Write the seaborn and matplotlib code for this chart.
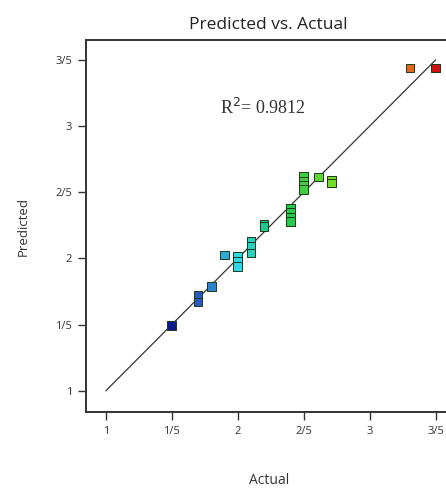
import matplotlib
matplotlib.use("Agg")
import matplotlib.pyplot as plt
from matplotlib.colors import LinearSegmentedColormap
import seaborn as sns
import pandas as pd

# ---- data ----
actual = [1.50, 1.70, 1.70, 1.80, 1.90, 2.00, 2.00, 2.00, 2.10, 2.10, 2.10,
          2.20, 2.20, 2.40, 2.40, 2.40, 2.40, 2.50, 2.50, 2.50, 2.50, 2.61,
          2.71, 2.71, 3.305, 3.50]
predicted = [1.495, 1.72, 1.67, 1.79, 2.025, 2.02, 1.98, 1.94, 2.13, 2.09, 2.04,
             2.26, 2.24, 2.38, 2.35, 2.31, 2.28, 2.62, 2.585, 2.55, 2.52, 2.615,
             2.59, 2.57, 3.44, 3.44]
tick_values = [1.0, 1.5, 2.0, 2.5, 3.0, 3.5]
tick_labels = ["1", "1/5", "2", "2/5", "3", "3/5"]
ref_line = [1.0, 3.5]
r2_text = "R$^2$= 0.9812"

sns.set_style("white")
plt.rcParams['font.family'] = ['Open Sans', 'DejaVu Sans']

df = pd.DataFrame({"Actual": actual, "Predicted": predicted})

cmap = LinearSegmentedColormap.from_list(
    "de", [(0.0, "#0a1a8c"), (0.10, "#2a5cc0"), (0.20, "#30a8d8"),
           (0.25, "#30d8e8"), (0.35, "#20c890"), (0.45, "#28c848"),
           (0.60, "#70dc28"), (0.75, "#e0d020"), (0.90, "#e07020"),
           (1.0, "#d01010")])

fig = plt.figure(figsize=(4.46, 4.90), dpi=100)
ax = fig.add_axes([86/446, 78/490, (451.5-86)/446, 372/490])

ax.plot(ref_line, ref_line, color="#333333", lw=0.9, zorder=1)
sns.scatterplot(data=df, x="Actual", y="Predicted", hue="Actual",
                palette=cmap, hue_norm=(1.5, 3.5), marker="s", s=38,
                edgecolor="#1a3a1a", linewidth=0.7, legend=False, ax=ax, zorder=2)

ax.set_xlim(0.85, 3.62)
ax.set_ylim(0.84, 3.65)
ax.set_xticks(tick_values)
ax.set_xticklabels(tick_labels)
ax.set_yticks(tick_values)
ax.set_yticklabels(tick_labels)
ax.tick_params(axis="both", direction="out", length=6, width=1.0,
               color="#333333", labelsize=8, labelcolor="#333333", pad=4,
               bottom=True, left=True)
for s in ["top", "left", "bottom"]:
    ax.spines[s].set_color("#333333")
    ax.spines[s].set_linewidth(1.4)
ax.spines["right"].set_visible(False)

ax.set_xlabel("Actual", fontsize=10, color="#333333", labelpad=26)
ax.set_ylabel("Predicted", fontsize=9.5, color="#333333", labelpad=18)
ax.set_title("Predicted vs. Actual", fontsize=12.5, color="#222222", pad=8)

ax.text(2.19, 3.14, r2_text, fontsize=13, family="Liberation Serif",
        color="#333333", ha="center", va="center")

fig.savefig("out.png", dpi=100)
